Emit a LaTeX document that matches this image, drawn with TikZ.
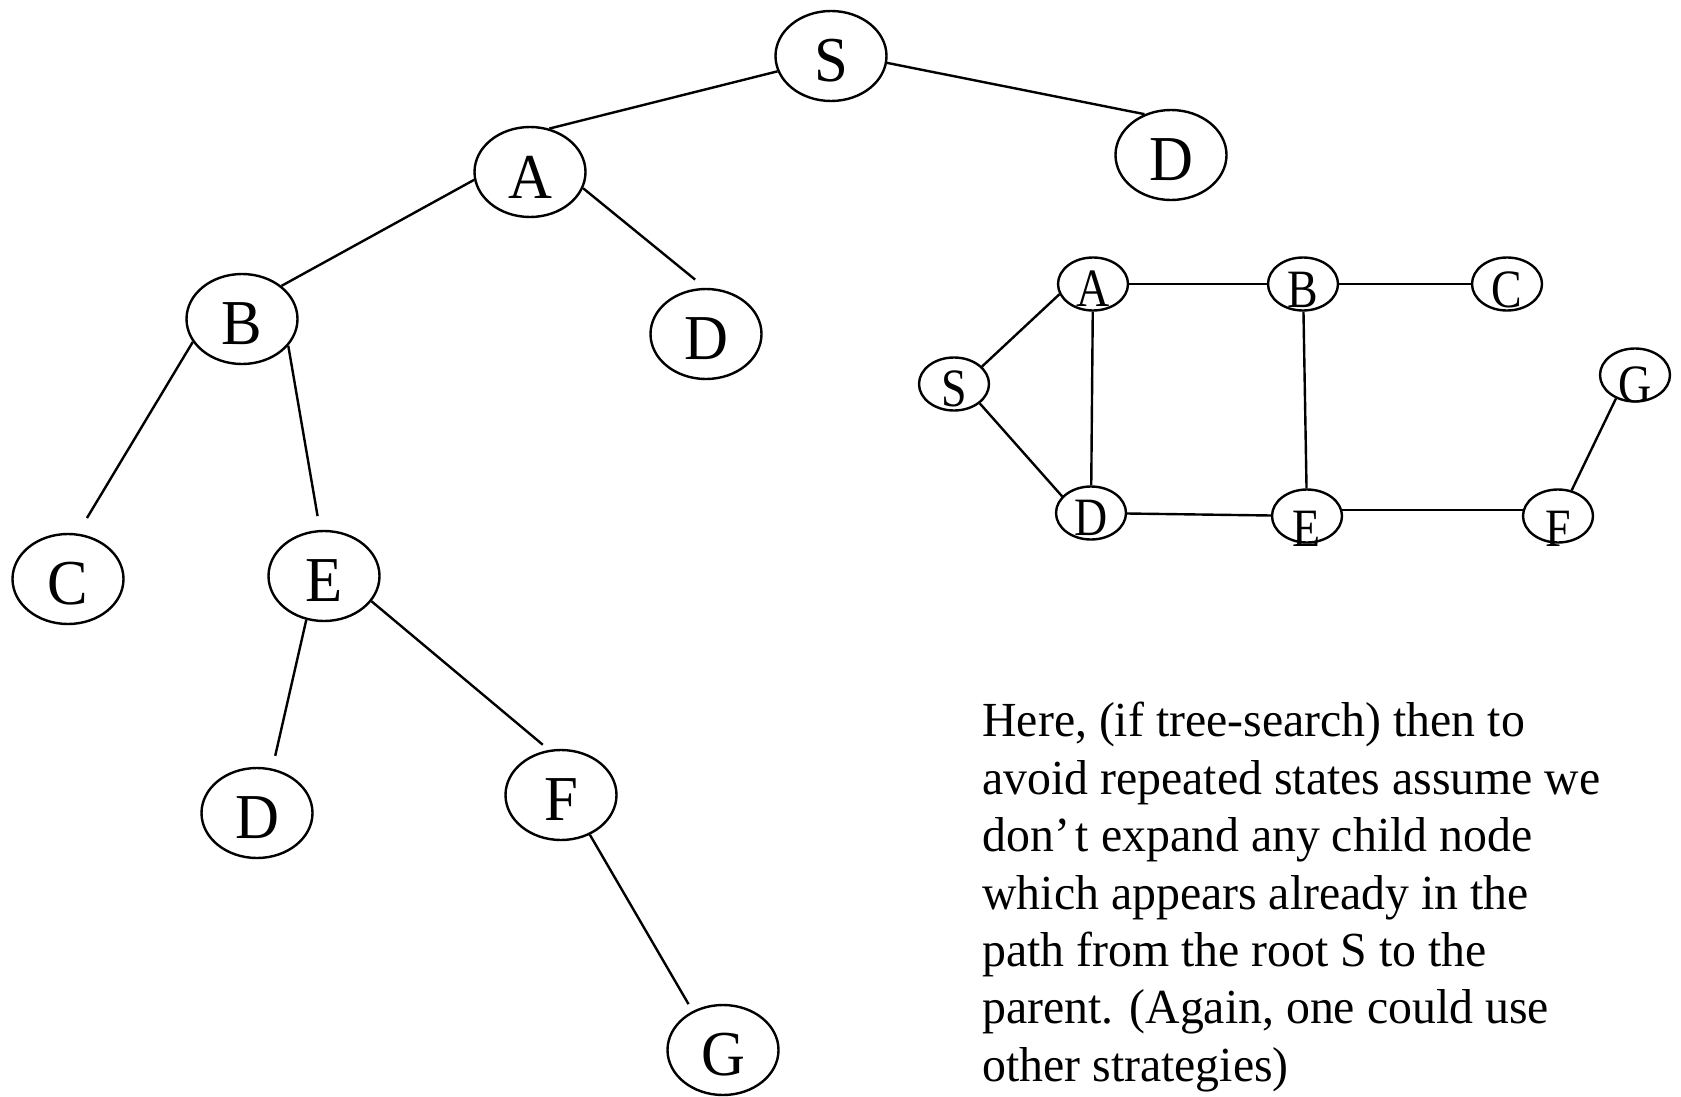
\documentclass[tikz,border=0pt]{standalone}
\usepackage{fontspec}
\setmainfont[FakeStretch=0.975]{Liberation Serif}
\newfontfamily\treefont[FakeStretch=0.95]{Liberation Serif}
\newfontfamily\grfont[FakeStretch=0.85]{Liberation Serif}
\usetikzlibrary{shapes.geometric}
\begin{document}
\begin{tikzpicture}[x=0.5pt,y=-0.5pt,
  ell/.style={draw,ellipse,line width=1.2pt,inner sep=0pt},
  tnode/.style={ell,minimum width=55.5pt,minimum height=45pt,
     label={[font=\treefont\fontsize{32}{34}\selectfont,inner sep=0pt,yshift=-2.5pt]center:#1}},
  gnode/.style 2 args={ell,minimum width=35pt,minimum height=26.5pt,
     label={[font=\grfont\fontsize{27}{29}\selectfont,inner sep=0pt,yshift=#2]center:#1}},
  edge/.style={line width=1.2pt}]
\useasboundingbox (0,0) rectangle (1681,1097);
% tree
\node[tnode=S]  (S)  at (831,56)   {};
\node[tnode=A]  (A)  at (530,172)  {};
\node[tnode=D]  (Dt) at (1171,155) {};
\node[tnode=B]  (B)  at (242,319)  {};
\node[tnode=D]  (Dm) at (706,334)  {};
\node[tnode=C]  (C)  at (68,579)   {};
\node[tnode=E]  (E)  at (324,576)  {};
\node[tnode=D]  (Dl) at (257,813)  {};
\node[tnode=F]  (F)  at (561,795)  {};
\node[tnode=G]  (G)  at (723,1050) {};
\draw[edge] (S.196) -- (A.66);
\draw[edge] (S.353) -- (Dt.123);
\draw[edge] (A.188) -- (B.40);
\draw[edge,shorten >=6.5pt] (A.343) -- (Dm.91);
\draw[edge,shorten >=9pt] (B.205) -- (C.78);
\draw[edge,shorten >=7pt] (B.330) -- (E.95);
\draw[edge,shorten >=6.5pt] (E.248) -- (Dl.71);
\draw[edge,shorten >=4pt] (E.332) -- (F.105);
\draw[edge,shorten >=4pt] (F.306) -- (G.128);
% graph
\node[gnode={A}{-2.5pt}] (gA) at (1093,284) {};
\node[gnode={B}{-3pt}]   (gB) at (1303,284) {};
\node[gnode={C}{-3pt}]   (gC) at (1507,284) {};
\node[gnode={S}{-2.5pt}] (gS) at (954,384)  {};
\node[gnode={G}{-5pt}]   (gG) at (1635,375) {};
\node[gnode={D}{-2.5pt}] (gD) at (1091,513) {};
\node[gnode={E}{-6.5pt}] (gE) at (1307,516) {};
\node[gnode={F}{-6.5pt}] (gF) at (1558,516) {};
\draw[edge] (gS.32) -- (gA.197);
\draw[edge] (gS.323) -- (gD.150);
\draw[edge] (gA) -- (gB);
\draw[edge] (gA) -- (gD);
\draw[edge] (gB.east) -- (gC.west);
\draw[edge] (gB) -- (gE);
\draw[edge] (gD) -- (gE);
\draw[edge] (gE.10) -- (gF.170);
\draw[edge] (gF.62) -- (gG.231);
% text
\node[anchor=north west,inner sep=0pt,align=left,font=\fontsize{24.5}{28.7}\selectfont] (txt) at (982,702)
{Here, (if tree-search) then to\\
avoid repeated states assume we\\
don’\hspace{0.12em}t expand any child node\\
which appears already in the\\
path from the root S to the\\
parent. (Again, one could use\\
other strategies)};
\end{tikzpicture}
\end{document}
